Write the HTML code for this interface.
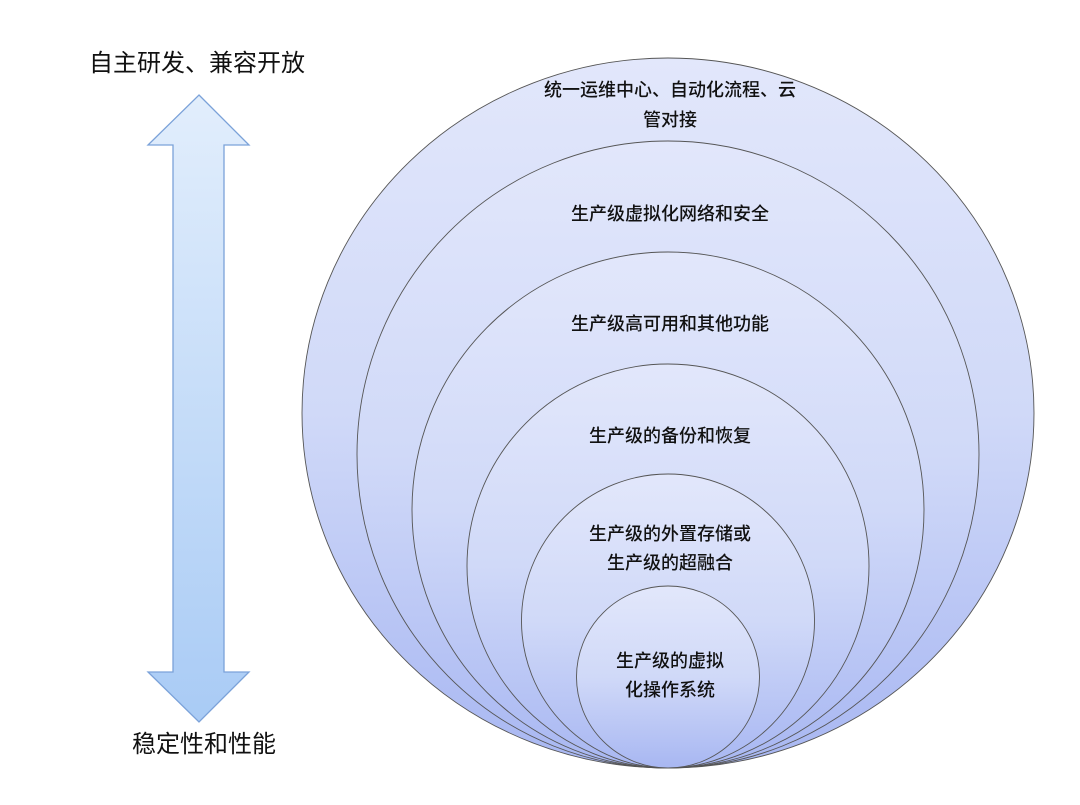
<!DOCTYPE html>
<html><head><meta charset="utf-8"><style>
body{margin:0;background:#fff;}
svg text{font-family:"Liberation Sans","Noto Sans CJK SC",sans-serif;fill:#111;}
</style></head><body>
<svg width="1080" height="800" viewBox="0 0 1080 800" xmlns="http://www.w3.org/2000/svg">
<defs>
<linearGradient id="g" x1="0" y1="0" x2="0" y2="1">
<stop offset="0" stop-color="#e2e7fb"/><stop offset="0.5" stop-color="#d0d9f8"/><stop offset="1" stop-color="#a8b7f2"/>
</linearGradient>
<linearGradient id="a" x1="0" y1="0" x2="0" y2="1">
<stop offset="0" stop-color="#e2eefc"/><stop offset="1" stop-color="#a9cbf5"/>
</linearGradient>
</defs>
<text x="197" y="71" font-size="24" text-anchor="middle">自主研发、兼容开放</text>
<text x="204" y="752" font-size="24" text-anchor="middle">稳定性和性能</text>
<polygon points="199,95 249,145 224,145 224,672 249,672 199,722 148,672 173,672 173,145 148,145" fill="url(#a)" stroke="#7ba2d9" stroke-width="1.3"/>
<g stroke="#555" stroke-width="0.9" fill="url(#g)">
<ellipse cx="668" cy="413" rx="366" ry="355"/>
<ellipse cx="668" cy="454.5" rx="311" ry="313.5"/>
<ellipse cx="668" cy="510" rx="256" ry="258"/>
<ellipse cx="668" cy="566" rx="201" ry="202"/>
<ellipse cx="668" cy="621" rx="146.5" ry="147"/>
<ellipse cx="668" cy="677" rx="91.5" ry="91"/>
</g>
<g font-size="18" text-anchor="middle" font-weight="500">
<text x="670" y="96">统一运维中心、自动化流程、云</text>
<text x="670" y="126">管对接</text>
<text x="670" y="220">生产级虚拟化网络和安全</text>
<text x="670" y="330">生产级高可用和其他功能</text>
<text x="670" y="442">生产级的备份和恢复</text>
<text x="670" y="540">生产级的外置存储或</text>
<text x="670" y="569">生产级的超融合</text>
<text x="670" y="667">生产级的虚拟</text>
<text x="670" y="696">化操作系统</text>
</g>
</svg>
</body></html>
